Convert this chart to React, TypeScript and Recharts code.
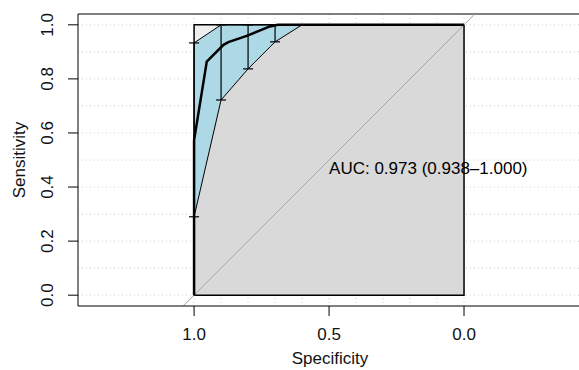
import React from 'react'
import {
  ComposedChart, Area, Line, Scatter, ErrorBar, XAxis, YAxis, CartesianGrid,
  ReferenceArea, ReferenceLine, ReferenceDot
} from 'recharts'

// ROC curve (specificity, sensitivity)
const rocSpec = [1.0, 1.0, 0.953, 0.891, 0.873, 0.805, 0.719, 0.69, 0.0]
const rocSens = [0.0, 0.574, 0.864, 0.926, 0.936, 0.959, 0.994, 1.0, 1.0]

// confidence band of sensitivity at given specificities
const ciSpec = [1.0, 0.9, 0.8, 0.7, 0.6, 0.0]
const ciLower = [0.29, 0.722, 0.837, 0.937, 1.0, 1.0]
const ciUpper = [0.933, 1.0, 1.0, 1.0, 1.0, 1.0]

const xTicks = [1.0, 0.5, 0.0]
const yTicks = [0.0, 0.2, 0.4, 0.6, 0.8, 1.0]
const gridValues = [0, 0.1, 0.2, 0.3, 0.4, 0.5, 0.6, 0.7, 0.8, 0.9, 1.0]
const aucText = 'AUC: 0.973 (0.938\u20131.000)'

const FONT = '"Liberation Sans", Arial, sans-serif'

const rocData = rocSpec.map((s, i) => ({ spec: s, sens: rocSens[i] }))
const bandData = ciSpec.map((s, i) => ({ spec: s, band: [ciLower[i], ciUpper[i]] }))
const lowerData = ciSpec.map((s, i) => ({ spec: s, sens: ciLower[i] }))
const upperData = ciSpec.map((s, i) => ({ spec: s, sens: ciUpper[i] }))
const barData = ciSpec
  .map((s, i) => ({ spec: s, sens: ciUpper[i], err: [ciUpper[i] - ciLower[i], 0] }))
  .filter(d => d.err[0] > 0)

const XTick = ({ x, y, payload }: any) => (
  <text x={x} y={y + 22} textAnchor="middle" fontSize={17} fontFamily={FONT} fill="#111">
    {Number(payload.value).toFixed(1)}
  </text>
)

const YTick = ({ x, y, payload }: any) => (
  <text transform={`translate(${x - 13},${y}) rotate(-90)`} textAnchor="middle" fontSize={17} fontFamily={FONT} fill="#111">
    {Number(payload.value).toFixed(1)}
  </text>
)

export default function App() {
  return (
    <div style={{ position: 'absolute', left: 0, top: 0, width: 579, height: 370, overflow: 'hidden', background: '#fff' }}>
      <ComposedChart width={582} height={370} margin={{ top: 14, right: 0, bottom: 0, left: 0 }}>
        <CartesianGrid
          horizontalValues={gridValues}
          verticalValues={gridValues}
          stroke="#cccccc"
          strokeDasharray="1 3"
        />
        <XAxis
          dataKey="spec"
          type="number"
          domain={[-0.437, 1.43]}
          allowDataOverflow
          reversed
          ticks={xTicks}
          interval={0}
          height={64}
          tickSize={10}
          stroke="#000"
          tick={<XTick />}
          label={{
            content: ({ viewBox }: any) => (
              <text x={viewBox.x + viewBox.width / 2} y={viewBox.y + 58} textAnchor="middle" fontSize={17} fontFamily={FONT} fill="#111">
                Specificity
              </text>
            )
          }}
        />
        <YAxis
          type="number"
          domain={[-0.04, 1.04]}
          allowDataOverflow
          ticks={yTicks}
          interval={0}
          width={78}
          tickSize={10}
          stroke="#000"
          tick={<YTick />}
          label={{
            content: ({ viewBox }: any) => (
              <text transform={`translate(25,${viewBox.y + viewBox.height / 2}) rotate(-90)`} textAnchor="middle" fontSize={17} fontFamily={FONT} fill="#111">
                Sensitivity
              </text>
            )
          }}
        />
        <ReferenceLine y={1.04} stroke="#000" strokeWidth={1} />

        {/* max AUC rectangle */}
        <ReferenceArea x1={0} x2={1} y1={0} y2={1} fill="#eeeeee" fillOpacity={1} stroke="none" />
        {/* area under the curve */}
        <Area data={rocData} dataKey="sens" type="linear" baseValue={0} fill="#d9d9d9" fillOpacity={1} stroke="none" isAnimationActive={false} />
        {/* CI band */}
        <Area data={bandData} dataKey="band" type="linear" fill="#add8e6" fillOpacity={1} stroke="none" isAnimationActive={false} />

        <ReferenceLine segment={[{ x: 1.04, y: -0.04 }, { x: -0.04, y: 1.04 }]} stroke="#a6a6a6" strokeWidth={1} ifOverflow="visible" />
        <ReferenceArea x1={0} x2={1} y1={0} y2={1} fill="none" stroke="#000" strokeWidth={1.5} />

        <Line data={lowerData} dataKey="sens" type="linear" stroke="#000" strokeWidth={1} dot={false} isAnimationActive={false} />
        <Line data={upperData} dataKey="sens" type="linear" stroke="#000" strokeWidth={1} dot={false} isAnimationActive={false} />
        <Scatter data={barData} dataKey="sens" shape={() => <g />} isAnimationActive={false}>
          <ErrorBar dataKey="err" direction="y" width={5} stroke="#000" strokeWidth={1.2} />
        </Scatter>
        <Line data={rocData} dataKey="sens" type="linear" stroke="#000" strokeWidth={2.5} dot={false} isAnimationActive={false} />

        <ReferenceDot
          x={0.5}
          y={0.448}
          r={0}
          fill="none"
          stroke="none"
          label={{
            content: ({ viewBox }: any) => (
              <text x={viewBox.x} y={viewBox.y} textAnchor="start" fontSize={17} fontFamily={FONT} fill="#000">
                {aucText}
              </text>
            )
          }}
        />
      </ComposedChart>
    </div>
  )
}
